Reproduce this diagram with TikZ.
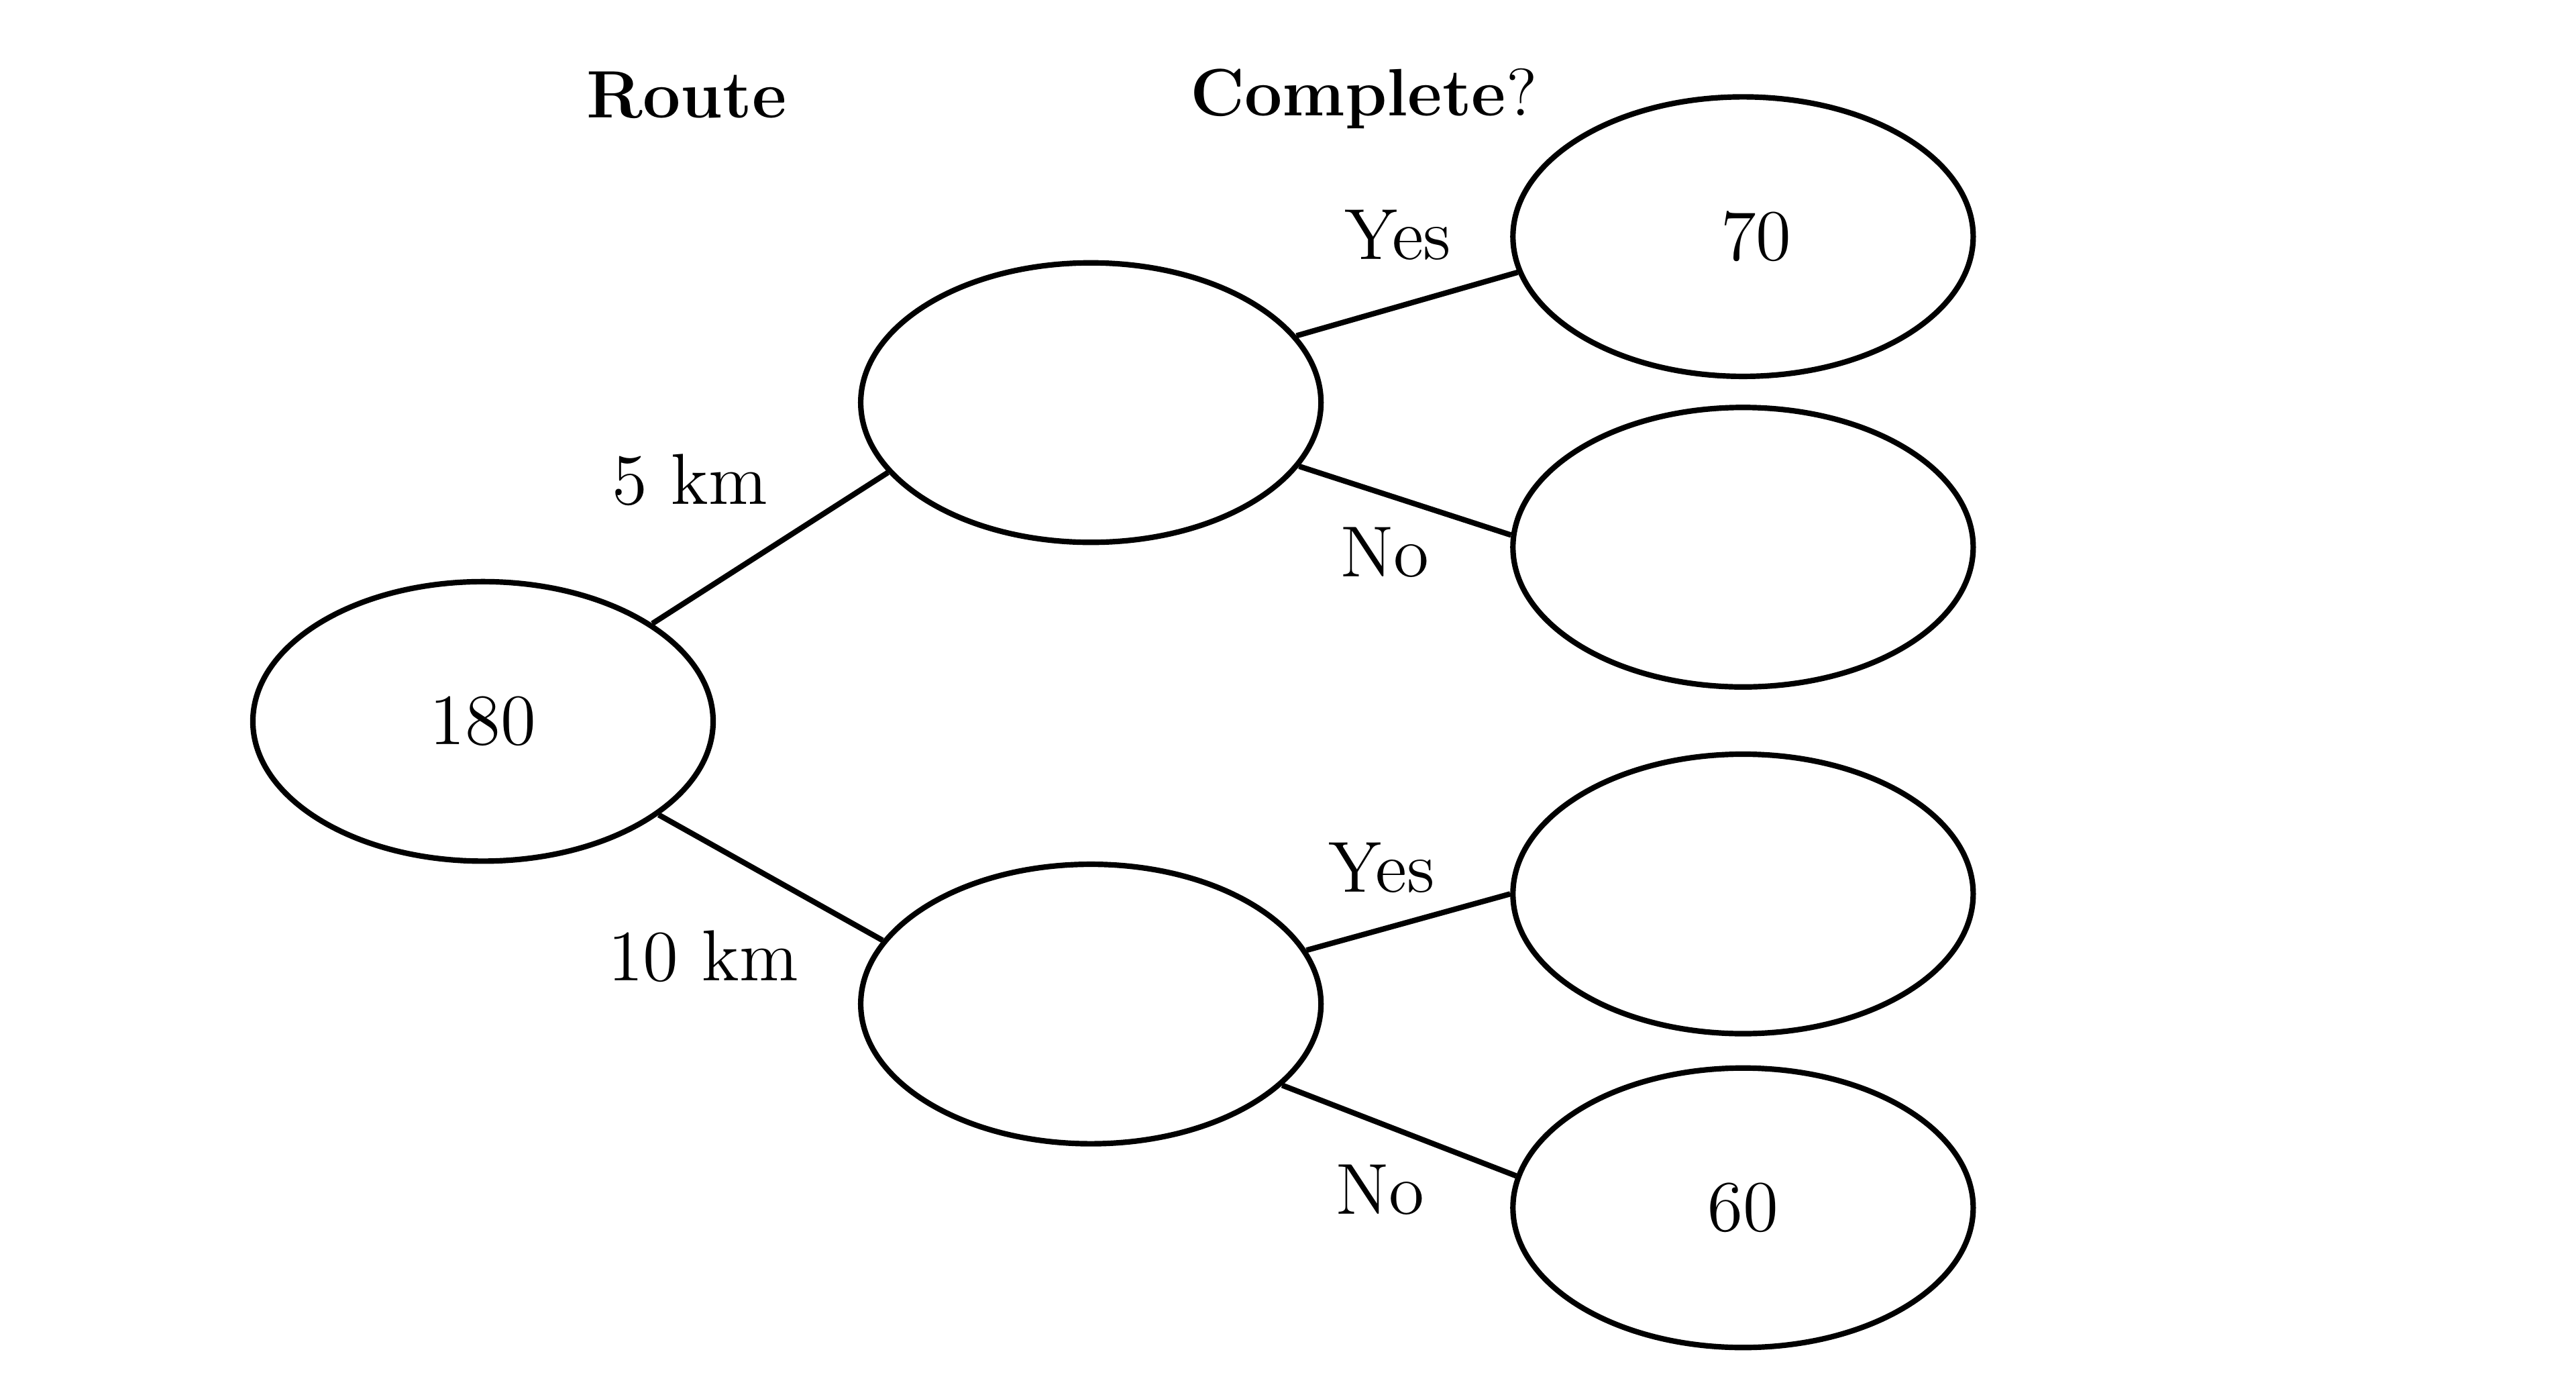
\documentclass[tikz,border=0pt]{standalone}
\usepackage{tikz}
\usetikzlibrary{shapes.geometric}

\begin{document}
\begin{tikzpicture}[x=0.01cm, y=-0.01cm, line width=0.95pt,
        bubble/.style={draw, ellipse, minimum width=2.8cm, minimum height=1.7cm, inner sep=0pt},
        heading/.style={font=\fontsize{11.6}{14}\selectfont},
        every node/.append style={font=\fontsize{12.5}{15}\selectfont}]
        \useasboundingbox (0,0) rectangle (1568,851);
        % Headings
        \node[heading] (route) at (418,58) {\textbf{Route}};
        \node[heading] (complete) at (830,60) {\textbf{Complete}?};

        % Ellipses
        \node[bubble] (start) at (294,439) {180};
        \node[bubble] (five) at (664,245) {};
        \node[bubble] (ten) at (664,611) {};
        \node[bubble] (fiveyes) at (1061,144) {\hspace*{1.6mm}70};
        \node[bubble] (fiveno) at (1061,333) {};
        \node[bubble] (tenyes) at (1061,544) {};
        \node[bubble] (tenno) at (1061,735) {60};

        % Branches
        \draw (start.30) -- (five.199);
        \draw (start.-28) -- (ten.163);
        \draw (five.18.6) -- (fiveyes.189);
        \draw (five.-17.5) -- (fiveno.177);
        \draw (ten.14) -- (tenyes.180);
        \draw (ten.-23) -- (tenno.172);

        \node (km5) at (420,292) {5 km};
        \node (km10) at (428,582) {10 km};
        \node (yes1) at (851,143) {Yes};
        \node (no1) at (843,336) {No};
        \node (yes2) at (841,528) {Yes};
        \node (no2) at (840,724) {No};
    \end{tikzpicture}
\end{document}
